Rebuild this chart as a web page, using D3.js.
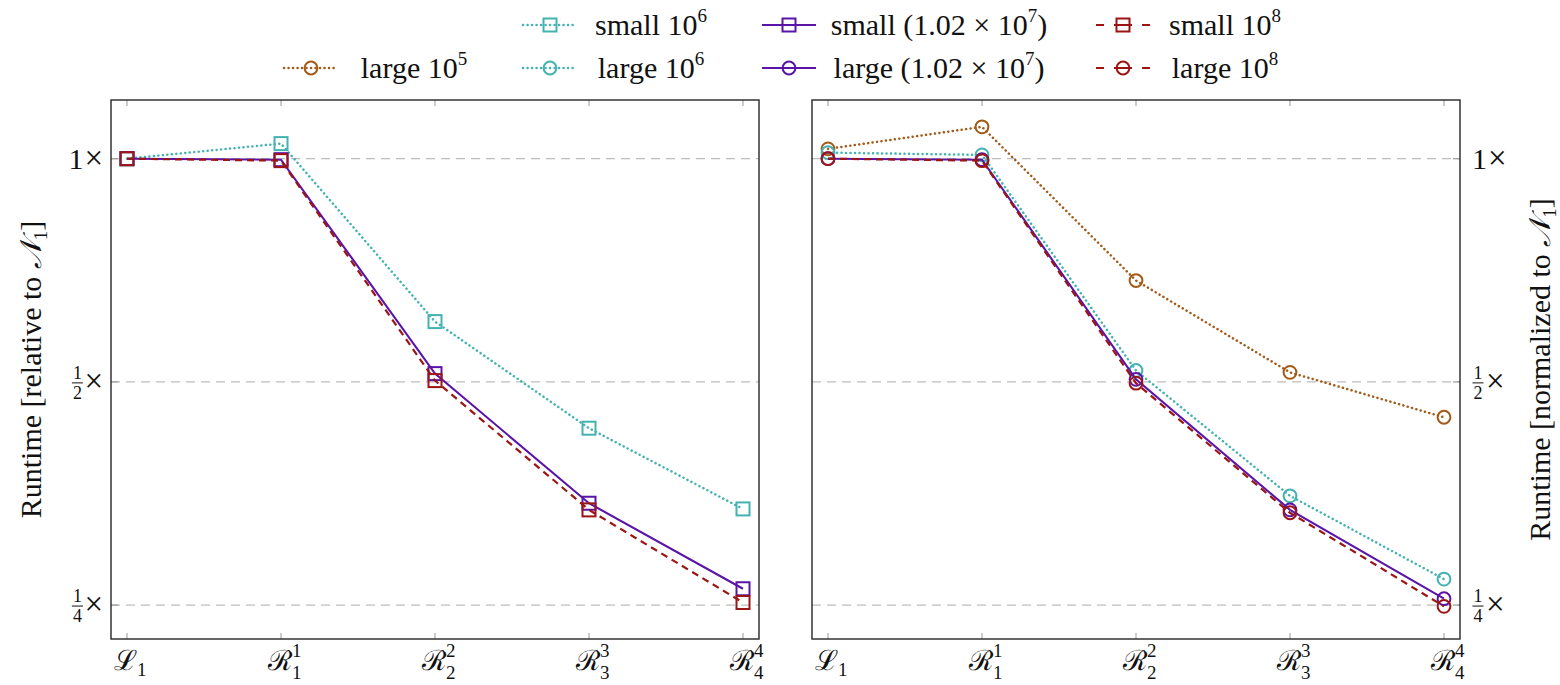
<!DOCTYPE html>
<meta charset="utf-8">
<script src="https://d3js.org/d3.v7.min.js"></script>
<style>
  body { margin: 0; background: #fff; }
  text { font-family: "Liberation Serif", "DejaVu Serif", serif; fill: #111; }
</style>
<body>
<div id="chart"></div>
<script>

// x categories (stage names) and their label parts
var stages = ["L1", "R1", "R2", "R3", "R4"];
var stageLetter = ["\u2112", "\u211B", "\u211B", "\u211B", "\u211B"];
var stageSub = ["1", "1", "2", "3", "4"];
var stageSup = ["", "1", "2", "3", "4"];

var yTicks = [1, 0.5, 0.25];

// left panel: small inputs (runtime relative to N1)
var small1e6   = [1.000, 1.048, 0.603, 0.433, 0.337];
var small102e7 = [1.000, 0.997, 0.513, 0.343, 0.263];
var small1e8   = [1.000, 0.994, 0.502, 0.336, 0.252];

// right panel: large inputs (normalized to N1)
var large1e5   = [1.031, 1.104, 0.685, 0.515, 0.448];
var large1e6   = [1.019, 1.012, 0.518, 0.351, 0.271];
var large102e7 = [1.000, 0.997, 0.504, 0.336, 0.255];
var large1e8   = [1.000, 0.994, 0.498, 0.333, 0.249];

var teal = "#45b2b2", purple = "#5a14a8", darkred = "#9c1515", brown = "#a35a18";

var styles = {
  dotted: { dash: "0.1,4.4", cap: "round", width: 2.5 },
  solid:  { dash: null, cap: "butt", width: 2.1 },
  dashed: { dash: "7,5", cap: "butt", width: 2.2 }
};

var series = [
  { label: ["small 10", "6", ""], values: small1e6, panel: 0, color: teal, style: "dotted", mark: "square", row: 0, col: 1 },
  { label: ["small (1.02 \u00D7 10", "7", ")"], values: small102e7, panel: 0, color: purple, style: "solid", mark: "square", row: 0, col: 2 },
  { label: ["small 10", "8", ""], values: small1e8, panel: 0, color: darkred, style: "dashed", mark: "square", row: 0, col: 3 },
  { label: ["large 10", "5", ""], values: large1e5, panel: 1, color: brown, style: "dotted", mark: "circle", row: 1, col: 0 },
  { label: ["large 10", "6", ""], values: large1e6, panel: 1, color: teal, style: "dotted", mark: "circle", row: 1, col: 1 },
  { label: ["large (1.02 \u00D7 10", "7", ")"], values: large102e7, panel: 1, color: purple, style: "solid", mark: "circle", row: 1, col: 2 },
  { label: ["large 10", "8", ""], values: large1e8, panel: 1, color: darkred, style: "dashed", mark: "circle", row: 1, col: 3 }
];

var width = 1560, height = 685;
var plotTop = 100, plotBottom = 639;
var panels = [
  { x0: 111, x1: 759, side: "left",  title: "Runtime [relative to " },
  { x0: 812, x1: 1460, side: "right", title: "Runtime [normalized to " }
];

var svg = d3.select("#chart").append("svg")
    .attr("width", width)
    .attr("height", height);

var y = d3.scaleLog().base(2)
    .domain([0.225, 1.2])
    .range([plotBottom, plotTop]);

function drawMark(sel, mark, color) {
  if (mark == "square") {
    sel.append("rect")
      .attr("x", -6.5).attr("y", -6.5)
      .attr("width", 13).attr("height", 13)
      .attr("fill", "none").attr("stroke", color).attr("stroke-width", 2);
  } else {
    sel.append("circle")
      .attr("r", 6.4)
      .attr("fill", "none").attr("stroke", color).attr("stroke-width", 2);
  }
}

panels.forEach(function(p, pi) {
  var x = d3.scalePoint().domain(stages).range([p.x0 + 16, p.x1 - 16]);
  var g = svg.append("g");

  // dashed grid lines
  g.selectAll(".grid").data(yTicks).enter().append("line")
    .attr("x1", p.x0).attr("x2", p.x1)
    .attr("y1", function(d) { return y(d); })
    .attr("y2", function(d) { return y(d); })
    .attr("stroke", "#bdbdbd").attr("stroke-width", 1.3)
    .attr("stroke-dasharray", "9,6");

  // x tick marks top and bottom
  stages.forEach(function(s) {
    g.append("line").attr("x1", x(s)).attr("x2", x(s)).attr("y1", plotTop).attr("y2", plotTop + 6)
      .attr("stroke", "#a0a0a0").attr("stroke-width", 1.1);
    g.append("line").attr("x1", x(s)).attr("x2", x(s)).attr("y1", plotBottom - 6).attr("y2", plotBottom)
      .attr("stroke", "#a0a0a0").attr("stroke-width", 1.1);
  });

  // y tick marks on the labelled side
  var tx = p.side == "left" ? p.x0 : p.x1;
  var dir = p.side == "left" ? 1 : -1;
  yTicks.forEach(function(v) {
    g.append("line").attr("x1", tx).attr("x2", tx + dir * 7)
      .attr("y1", y(v)).attr("y2", y(v))
      .attr("stroke", "#a0a0a0").attr("stroke-width", 1.3);
  });

  // series
  var line = d3.line()
    .x(function(d, i) { return x(stages[i]); })
    .y(function(d) { return y(d); });

  series.filter(function(s) { return s.panel == pi; }).forEach(function(s) {
    var st = styles[s.style];
    g.append("path")
      .attr("d", line(s.values))
      .attr("fill", "none")
      .attr("stroke", s.color)
      .attr("stroke-width", st.width)
      .attr("stroke-linecap", st.cap)
      .attr("stroke-dasharray", st.dash);
    s.values.forEach(function(v, i) {
      var m = g.append("g").attr("transform", "translate(" + x(stages[i]) + "," + y(v) + ")");
      drawMark(m, s.mark, s.color);
    });
  });

  // frame
  g.append("rect")
    .attr("x", p.x0).attr("y", plotTop)
    .attr("width", p.x1 - p.x0).attr("height", plotBottom - plotTop)
    .attr("fill", "none").attr("stroke", "#262626").attr("stroke-width", 1.4);

  // x tick labels
  stages.forEach(function(s, i) {
    var t = g.append("text")
      .attr("x", x(s) - 13).attr("y", 670)
      .attr("font-size", 28);
    t.append("tspan").style("font-family", "DejaVu Serif").attr("font-size", 28).text(stageLetter[i]);
    if (stageSup[i]) {
      var tw = t.node().getComputedTextLength();
      t.append("tspan").attr("font-size", 19).attr("dy", -13).text(stageSup[i]);
      t.append("tspan").attr("font-size", 19).attr("x", x(s) - 13 + tw).attr("dy", 22).text(stageSub[i]);
    } else {
      t.append("tspan").attr("font-size", 19).attr("dy", 6).text(stageSub[i]);
    }
  });

  // y tick labels
  yTicks.forEach(function(v) {
    var yy = y(v);
    var tl = g.append("g");
    var times = tl.append("text").attr("font-size", 33).attr("y", yy + 10).text("\u00D7");
    var wt = times.node().getComputedTextLength();
    var xStart;
    if (p.side == "left") {
      times.attr("x", 103).attr("text-anchor", "end");
      xStart = 103 - wt;
    } else {
      xStart = 1472;
    }
    if (v == 1) {
      var one = tl.append("text").attr("font-size", 30).attr("y", yy + 10).text("1");
      if (p.side == "left") one.attr("x", xStart - 1).attr("text-anchor", "end");
      else { one.attr("x", xStart); times.attr("x", xStart + 16); }
    } else {
      var den = v == 0.5 ? "2" : "4";
      var cx = p.side == "left" ? xStart - 7 : xStart + 6;
      tl.append("text").attr("font-size", 18).attr("x", cx).attr("y", yy - 3)
        .attr("text-anchor", "middle").text("1");
      tl.append("line").attr("x1", cx - 5.5).attr("x2", cx + 5.5).attr("y1", yy + 1).attr("y2", yy + 1)
        .attr("stroke", "#111").attr("stroke-width", 1);
      tl.append("text").attr("font-size", 18).attr("x", cx).attr("y", yy + 17)
        .attr("text-anchor", "middle").text(den);
      if (p.side == "right") times.attr("x", xStart + 14);
    }
  });

  // y axis title
  var ax = p.side == "left" ? 41 : 1550;
  var title = g.append("text")
    .attr("transform", "translate(" + ax + "," + ((plotTop + plotBottom) / 2) + ") rotate(-90)")
    .attr("text-anchor", "middle")
    .attr("font-size", 30);
  title.append("tspan").text(p.title);
  title.append("tspan").style("font-family", "DejaVu Sans").attr("font-style", "italic").text("\uD835\uDCA9");
  title.append("tspan").attr("font-size", 19).attr("dy", 6).text("1");
  title.append("tspan").attr("dy", -6).text("]");
});

// legend
var colSample = [311, 550, 789, 1123];
var colText = [414, 651, 939, 1225];
var rowY = [25, 68];

series.forEach(function(s) {
  var cx = colSample[s.col], cy = rowY[s.row];
  var st = styles[s.style];
  var lg = svg.append("g");
  lg.append("line")
    .attr("x1", cx - 27).attr("x2", cx + 27).attr("y1", cy).attr("y2", cy)
    .attr("stroke", s.color)
    .attr("stroke-width", st.width)
    .attr("stroke-linecap", st.cap)
    .attr("stroke-dasharray", s.style == "dashed" ? "8,10,18,10,8" : st.dash);
  drawMark(lg.append("g").attr("transform", "translate(" + cx + "," + cy + ")"), s.mark, s.color);
  var t = lg.append("text")
    .attr("x", colText[s.col]).attr("y", cy + 10)
    .attr("text-anchor", "middle")
    .attr("font-size", 30);
  t.append("tspan").text(s.label[0]);
  t.append("tspan").attr("font-size", 19).attr("dy", -13).text(s.label[1]);
  if (s.label[2]) t.append("tspan").attr("dy", 13).text(s.label[2]);
});

</script>
</body>
